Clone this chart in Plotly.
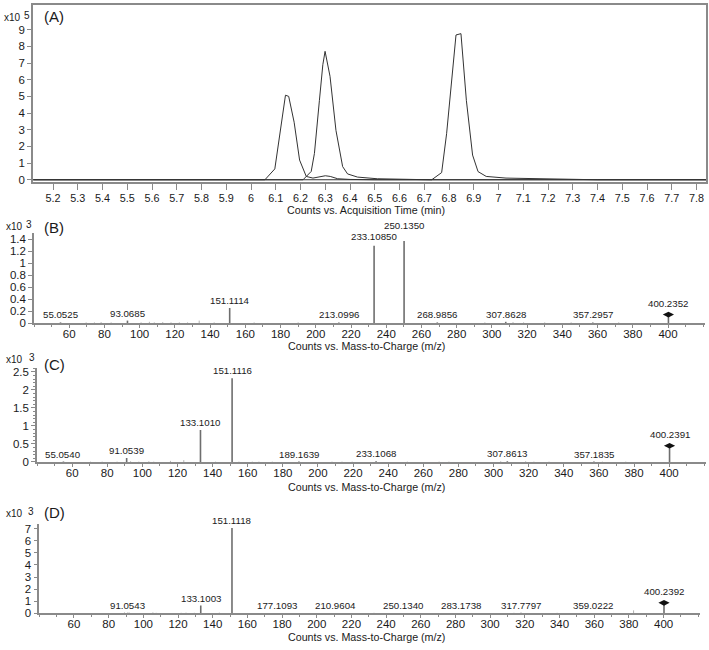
import plotly.graph_objects as go

W, H = 709, 650

# ---------------- Panel A: chromatogram (x10^5 counts) ----------------
A_t1 = [5.12, 6.056, 6.096, 6.139, 6.152, 6.174, 6.196, 6.223, 6.25, 6.28, 6.30, 6.32, 6.35, 6.40, 6.50, 7.838]
A_y1 = [0, 0, 0.65, 5.07, 5.0, 3.45, 1.18, 0.2, 0.1, 0.2, 0.24, 0.2, 0.06, 0.02, 0, 0]
A_t2 = [5.12, 6.21, 6.243, 6.256, 6.276, 6.29, 6.299, 6.319, 6.343, 6.37, 6.39, 6.43, 6.51, 6.60, 6.72, 7.838]
A_y2 = [0, 0, 0.5, 1.58, 4.74, 6.9, 7.7, 6.2, 2.96, 0.79, 0.35, 0.16, 0.06, 0.03, 0, 0]
A_t3 = [5.12, 6.73, 6.77, 6.79, 6.828, 6.848, 6.87, 6.895, 6.917, 6.95, 7.03, 7.19, 7.40, 7.838]
A_y3 = [0, 0, 0.43, 2.76, 8.68, 8.76, 4.74, 1.48, 0.49, 0.2, 0.1, 0.04, 0, 0]
A_xticks = [5.2, 5.3, 5.4, 5.5, 5.6, 5.7, 5.8, 5.9, 6.0, 6.1, 6.2, 6.3, 6.4, 6.5, 6.6, 6.7,
            6.8, 6.9, 7.0, 7.1, 7.2, 7.3, 7.4, 7.5, 7.6, 7.7, 7.8]
A_xticklabels = ["5.2", "5.3", "5.4", "5.5", "5.6", "5.7", "5.8", "5.9", "6", "6.1", "6.2", "6.3",
                 "6.4", "6.5", "6.6", "6.7", "6.8", "6.9", "7", "7.1", "7.2", "7.3", "7.4", "7.5",
                 "7.6", "7.7", "7.8"]

# ---------------- Panel B: MS/MS spectrum (x10^3 counts) ----------------
B_peak_labels = ["55.0525", "93.0685", "151.1114", "213.0996", "233.10850", "250.1350",
                 "268.9856", "307.8628", "357.2957", "400.2352"]
B_peak_h = [0.01, 0.04, 0.25, 0.01, 1.29, 1.37, 0.01, 0.02, 0.01, 0.14]
B_noise_mz = [69.6, 74.3, 78.1, 83.8, 100.8, 105.5, 108.3, 113.1, 117.8, 122.5, 127.2, 133.8,
              142.3, 165.0, 190.0, 296.0, 312.0, 318.0, 330.0, 345.0, 372.0]
B_noise_h = [0.01, 0.01, 0.015, 0.01, 0.01, 0.02, 0.01, 0.015, 0.01, 0.01, 0.01, 0.04,
             0.01, 0.01, 0.01, 0.01, 0.015, 0.01, 0.01, 0.01, 0.01]

# ---------------- Panel C ----------------
C_peak_labels = ["55.0540", "91.0539", "133.1010", "151.1116", "189.1639", "233.1068",
                 "307.8613", "357.1835", "400.2391"]
C_peak_h = [0.01, 0.11, 0.89, 2.32, 0.01, 0.02, 0.02, 0.01, 0.45]
C_noise_mz = [70.5, 77.1, 85.6, 93.3, 98.0, 103.7, 106.5, 116.0, 123.6, 141.7, 155.0, 162.6,
              166.4, 174.0, 208.0, 213.7, 219.5, 250.9, 269.0, 274.6, 304.1, 318.3, 323.0,
              331.6, 362.0, 375.3]
C_noise_h = [0.01, 0.01, 0.01, 0.02, 0.01, 0.02, 0.01, 0.03, 0.05, 0.01, 0.01, 0.01,
             0.01, 0.01, 0.01, 0.01, 0.01, 0.01, 0.01, 0.01, 0.02, 0.02, 0.01,
             0.01, 0.01, 0.01]

# ---------------- Panel D ----------------
D_peak_labels = ["91.0543", "133.1003", "151.1118", "177.1093", "210.9604", "250.1340",
                 "283.1738", "317.7797", "359.0222", "400.2392"]
D_peak_h = [0.05, 0.65, 7.05, 0.02, 0.02, 0.04, 0.02, 0.05, 0.02, 0.87]
D_noise_mz = [89.1, 92.0, 105.5, 107.4, 121.8, 124.6, 129.4, 143.8, 233.0, 313.7, 338.6, 382.7]
D_noise_h = [0.08, 0.06, 0.08, 0.05, 0.05, 0.06, 0.05, 0.06, 0.05, 0.05, 0.05, 0.25]

FONT = "Liberation Sans, Arial, sans-serif"
AX = "#8a8a8a"
TXT = "#1a1a1a"
STICK = "#6e6e6e"

# label vertical nudges (px) for crowded labels
LABEL_SHIFT = {"233.10850": 2, "250.1350": 8}


def xd(px):
    return px / W


def yd(px):
    return 1 - px / H


fig = go.Figure()

# Panel A traces
for t, y in [(A_t1, A_y1), (A_t2, A_y2), (A_t3, A_y3)]:
    fig.add_trace(go.Scatter(x=t, y=y, mode="lines", line=dict(color="#333333", width=1),
                             xaxis="x", yaxis="y", showlegend=False, hoverinfo="skip"))


def stick_xy(mzs, hs):
    xs, ys = [], []
    for m, h in zip(mzs, hs):
        xs += [m, m, None]
        ys += [0, h, None]
    return xs, ys


panels = [
    ("x2", "y2", B_peak_labels, B_peak_h, B_noise_mz, B_noise_h),
    ("x3", "y3", C_peak_labels, C_peak_h, C_noise_mz, C_noise_h),
    ("x4", "y4", D_peak_labels, D_peak_h, D_noise_mz, D_noise_h),
]
annotations = []
for xa, ya, labs, hs, nmz, nh in panels:
    pmz = [float(s) for s in labs]
    xs, ys = stick_xy(nmz, nh)
    fig.add_trace(go.Scatter(x=xs, y=ys, mode="lines", line=dict(color="#b0b0b0", width=1),
                             xaxis=xa, yaxis=ya, showlegend=False, hoverinfo="skip"))
    xs, ys = stick_xy(pmz, hs)
    fig.add_trace(go.Scatter(x=xs, y=ys, mode="lines", line=dict(color=STICK, width=1.6),
                             xaxis=xa, yaxis=ya, showlegend=False, hoverinfo="skip"))
    # precursor marker
    fig.add_trace(go.Scatter(x=[pmz[-1]], y=[hs[-1]], mode="markers",
                             marker=dict(symbol="diamond-wide", size=8, color="#111111"),
                             xaxis=xa, yaxis=ya, showlegend=False, hoverinfo="skip"))
    for i, (s, m, h) in enumerate(zip(labs, pmz, hs)):
        shift = 4 if i == len(labs) - 1 else LABEL_SHIFT.get(s, 0)
        annotations.append(dict(x=m, y=h, xref=xa, yref=ya, text=s, showarrow=False,
                                yanchor="bottom", xanchor="center", yshift=shift,
                                font=dict(size=9.7, color=TXT, family=FONT)))

common_x = dict(showline=True, linecolor=AX, linewidth=1.5, ticks="outside", tickcolor=AX,
                ticklen=3, tickwidth=1, showgrid=False, zeroline=False, ticklabeloverflow="allow",
                tickfont=dict(size=11.5, color=TXT, family=FONT))
common_y = dict(showline=True, linecolor=AX, linewidth=1.5, ticks="outside", tickcolor=AX,
                ticklen=4, tickwidth=1, showgrid=False, zeroline=False,
                tickfont=dict(size=11.5, color=TXT, family=FONT))

ms_x = dict(range=[40, 421], tickvals=[60, 80, 100, 120, 140, 160, 180, 200, 220, 240, 260,
                                        280, 300, 320, 340, 360, 380, 400],
            ticklabelstandoff=-4,
            minor=dict(dtick=10, tick0=0, ticks="outside", ticklen=2, tickcolor=AX))

fig.update_layout(
    width=W, height=H, margin=dict(l=0, r=0, t=0, b=0),
    paper_bgcolor="white", plot_bgcolor="white", showlegend=False,
    xaxis=dict(**common_x, domain=[xd(33), xd(706)], range=[5.119, 7.838], anchor="y",
               mirror=True, tickvals=A_xticks, ticktext=A_xticklabels),
    yaxis=dict(**common_y, domain=[yd(182), yd(3)], range=[-0.12, 10.48], anchor="x",
               mirror=True, tickvals=list(range(10))),
    xaxis2=dict(**common_x, **ms_x, domain=[xd(34), xd(705)], anchor="y2"),
    yaxis2=dict(**common_y, domain=[yd(325), yd(234)], range=[0, 1.5], dtick=0.2, anchor="x2"),
    xaxis3=dict(**common_x, **ms_x, domain=[xd(37), xd(706)], anchor="y3"),
    yaxis3=dict(**common_y, domain=[yd(465.7), yd(370.8)], range=[0, 2.6], dtick=0.5, anchor="x3",
                minor=dict(dtick=0.1, ticks="outside", ticklen=2, tickcolor=AX)),
    xaxis4=dict(**common_x, **ms_x, domain=[xd(39.3), xd(700)], anchor="y4"),
    yaxis4=dict(**common_y, domain=[yd(619), yd(528)], range=[0, 7.43], dtick=1, anchor="x4"),
)
fig.update_xaxes(selector=dict(anchor="y"), ticklen=6, tickfont=dict(size=10.8))

# panel letters, exponent labels, axis titles
for letter, ypx in [("(A)", 15), ("(B)", 228), ("(C)", 367), ("(D)", 517)]:
    annotations.append(dict(x=xd(42), y=yd(ypx), xref="paper", yref="paper", text=letter,
                            showarrow=False, xanchor="left", yanchor="middle",
                            font=dict(size=15, color=TXT, family=FONT)))
for base, expo, bx, ex, ypx in [("x10", "5", 2, 22, 16), ("x10", "3", 4, 24, 227),
                                ("x10", "3", 4, 27, 362), ("x10", "3", 4, 26, 518)]:
    annotations.append(dict(x=xd(bx), y=yd(ypx), xref="paper", yref="paper", text=base,
                            showarrow=False, xanchor="left", yanchor="middle",
                            font=dict(size=10, color=TXT, family=FONT)))
    annotations.append(dict(x=xd(ex), y=yd(ypx - 2), xref="paper", yref="paper", text=expo,
                            showarrow=False, xanchor="left", yanchor="middle",
                            font=dict(size=10, color=TXT, family=FONT)))
for txt, ypx in [("Counts vs. Acquisition Time (min)", 211), ("Counts vs. Mass-to-Charge (m/z)", 348),
                 ("Counts vs. Mass-to-Charge (m/z)", 491), ("Counts vs. Mass-to-Charge (m/z)", 643)]:
    annotations.append(dict(x=xd(366), y=yd(ypx), xref="paper", yref="paper", text=txt,
                            showarrow=False, xanchor="center", yanchor="middle",
                            font=dict(size=10.7, color=TXT, family=FONT)))

fig.update_layout(annotations=annotations)
fig.write_html("out.html", config={"displayModeBar": False},
               post_script="document.body.style.margin='0';document.body.style.overflow='hidden';")
